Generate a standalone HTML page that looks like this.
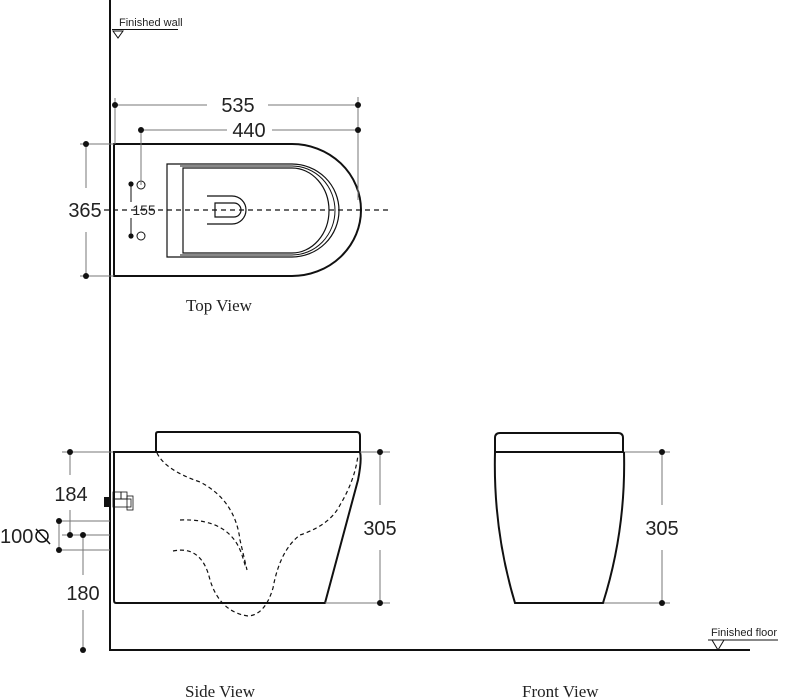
<!DOCTYPE html>
<html><head><meta charset="utf-8"><style>
html,body{margin:0;padding:0;background:#fff;}
svg{display:block;}
.s{font-family:"Liberation Sans",sans-serif;fill:#222;}
.r{font-family:"Liberation Serif",serif;fill:#222;}
</style></head><body>
<svg width="792" height="700" viewBox="0 0 792 700" xmlns="http://www.w3.org/2000/svg">
<g fill="none" stroke="#111">
<line x1="110" y1="0" x2="110" y2="651" stroke-width="2"/>
<line x1="109" y1="650" x2="750" y2="650" stroke-width="2"/>
<line x1="112" y1="29.5" x2="178" y2="29.5" stroke-width="1"/>
<path d="M113,31 L123,31 L118,38 Z" stroke-width="1"/>
<line x1="708" y1="640" x2="778" y2="640" stroke-width="1"/>
<path d="M712,640 L724,640 L718,650 Z" stroke-width="1"/>

<path d="M114,144 H292 A69,66 0 0 1 292,276 H114 Z" stroke-width="2"/>
<path d="M167,164 H292 A47,46.5 0 0 1 292,257 H167 Z" stroke-width="1.2"/>
<path d="M180,166 H292 A43,44.5 0 0 1 292,255 H180" stroke-width="1"/>
<path d="M183,168 H292 A37,42.5 0 0 1 292,253 H183 Z" stroke-width="1.2"/>
<path d="M207,196 H232 A14,14 0 0 1 232,224 H207" stroke-width="1.2"/>
<path d="M215,203 H234 A7,7 0 0 1 234,217 H215 Z" stroke-width="1.2"/>
<line x1="104" y1="210" x2="388" y2="210" stroke-width="1.2" stroke-dasharray="5,4"/>
<circle cx="141" cy="185" r="4" stroke-width="1"/>
<circle cx="141" cy="236" r="4" stroke-width="1"/>
<line x1="131" y1="184" x2="131" y2="202" stroke-width="1"/>
<line x1="131" y1="218" x2="131" y2="236" stroke-width="1"/>
<g stroke="#777" stroke-width="1">
<line x1="115" y1="98" x2="115" y2="144"/>
<line x1="115" y1="105" x2="207" y2="105"/>
<line x1="268" y1="105" x2="358" y2="105"/>
<line x1="141" y1="128" x2="141" y2="185"/>
<line x1="141" y1="130" x2="227" y2="130"/>
<line x1="272" y1="130" x2="358" y2="130"/>
<line x1="358" y1="97" x2="358" y2="200"/>
<line x1="80" y1="144" x2="114" y2="144"/>
<line x1="80" y1="276" x2="114" y2="276"/>
<line x1="86" y1="144" x2="86" y2="188"/>
<line x1="86" y1="232" x2="86" y2="276"/>
</g>
</g>
<g fill="#111">
<circle cx="115" cy="105" r="3"/><circle cx="358" cy="105" r="3"/>
<circle cx="141" cy="130" r="3"/><circle cx="358" cy="130" r="3"/>
<circle cx="86" cy="144" r="3"/><circle cx="86" cy="276" r="3"/>
<circle cx="131" cy="184" r="2.6"/><circle cx="131" cy="236" r="2.6"/>
</g>
<text class="s" x="238" y="112" font-size="20" text-anchor="middle">535</text>
<text class="s" x="249" y="137" font-size="20" text-anchor="middle">440</text>
<text class="s" x="85" y="217" font-size="20" text-anchor="middle">365</text>
<text class="s" x="144" y="215" font-size="14" text-anchor="middle">155</text>
<text class="r" x="186" y="311" font-size="17">Top View</text>

<g fill="none" stroke="#111">
<path d="M156,452 V434 Q156,432 158,432 H357 Q360,432 360,436 V452" stroke-width="2"/>
<path d="M113,452 H360 Q362,460 358,480 L325,603 H116 Q114,603 114,600 V452" stroke-width="2"/>
<g stroke-width="1.2" stroke-dasharray="4,3">
<path d="M157,453 Q165,470 200,482 Q235,500 240,540 L247,570"/>
<path d="M180,520 Q230,518 242,555 L246,568"/>
<path d="M173,551 Q202,545 210,580 Q220,612 248,616 Q265,615 273,588 Q280,550 300,535 Q330,525 340,505 Q355,480 358,455"/>
</g>
<rect x="104" y="497" width="6" height="10" fill="#111" stroke="none"/>
<g stroke-width="0.8">
<rect x="113" y="492" width="8" height="7"/><rect x="121" y="492" width="6" height="7"/>
<rect x="113" y="499" width="18" height="8"/><rect x="127" y="496" width="6" height="14"/>
</g>
<g stroke="#777" stroke-width="1">
<line x1="62" y1="452" x2="113" y2="452"/>
<line x1="70" y1="452" x2="70" y2="475"/>
<line x1="70" y1="510" x2="70" y2="535"/>
<line x1="59" y1="521" x2="110" y2="521"/>
<line x1="62" y1="535" x2="110" y2="535"/>
<line x1="59" y1="550" x2="110" y2="550"/>
<line x1="59" y1="521" x2="59" y2="550"/>
<line x1="83" y1="535" x2="83" y2="575"/>
<line x1="83" y1="610" x2="83" y2="650"/>
<line x1="360" y1="452" x2="390" y2="452"/>
<line x1="325" y1="603" x2="390" y2="603"/>
<line x1="380" y1="452" x2="380" y2="505"/>
<line x1="380" y1="550" x2="380" y2="603"/>
<line x1="623" y1="452" x2="670" y2="452"/>
<line x1="603" y1="603" x2="670" y2="603"/>
<line x1="662" y1="452" x2="662" y2="505"/>
<line x1="662" y1="550" x2="662" y2="603"/>
</g>
<path d="M495,452 V438 Q495,433 500,433 H618 Q623,433 623,438 V452 Z" stroke-width="2"/>
<path d="M495,452 Q493,530 515,603 H603 Q626,530 624,452" stroke-width="2"/>
<circle cx="42" cy="536" r="6" stroke-width="1.5"/>
<line x1="36" y1="529" x2="50" y2="544" stroke-width="1.5"/>
</g>
<g fill="#111">
<circle cx="70" cy="452" r="3"/><circle cx="70" cy="535" r="3"/><circle cx="83" cy="535" r="3"/>
<circle cx="59" cy="521" r="3"/><circle cx="59" cy="550" r="3"/><circle cx="83" cy="650" r="3"/>
<circle cx="380" cy="452" r="3"/><circle cx="380" cy="603" r="3"/>
<circle cx="662" cy="452" r="3"/><circle cx="662" cy="603" r="3"/>
</g>
<text class="s" x="71" y="501" font-size="20" text-anchor="middle">184</text>
<text class="s" x="0" y="543" font-size="20">100</text>
<text class="s" x="83" y="600" font-size="20" text-anchor="middle">180</text>
<text class="s" x="380" y="535" font-size="20" text-anchor="middle">305</text>
<text class="s" x="662" y="535" font-size="20" text-anchor="middle">305</text>
<text class="s" x="119" y="26" font-size="11">Finished wall</text>
<text class="s" x="711" y="636" font-size="11">Finished floor</text>
<text class="r" x="185" y="697" font-size="17">Side View</text>
<text class="r" x="522" y="697" font-size="17">Front View</text>
</svg>
</body></html>
